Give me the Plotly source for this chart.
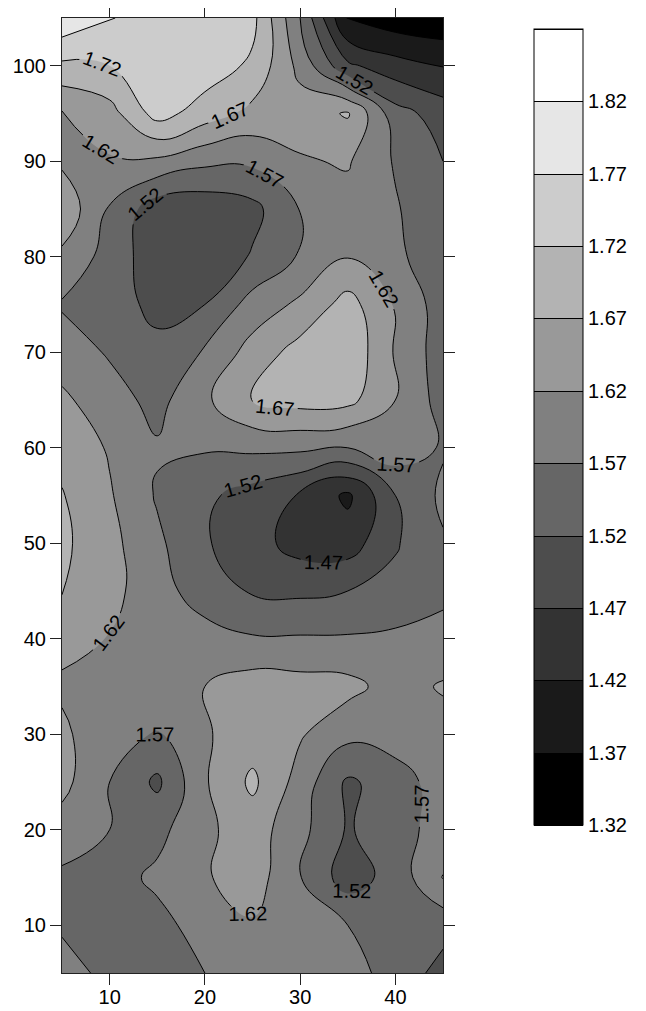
import plotly.graph_objects as go

# grid coordinates (sample nodes every 5 units)
x_vals = [5, 10, 15, 20, 25, 30, 35, 40, 45]
y_vals = [5, 10, 15, 20, 25, 30, 35, 40, 45, 50, 55, 60, 65, 70, 75, 80, 85, 90, 95, 100, 105]

# values, one row per y (from y=5 upward)
z_y5   = [1.585, 1.560, 1.550, 1.570, 1.595, 1.595, 1.585, 1.555, 1.500]
z_y10  = [1.565, 1.550, 1.555, 1.590, 1.615, 1.590, 1.570, 1.545, 1.540]
z_y15  = [1.560, 1.550, 1.580, 1.615, 1.645, 1.572, 1.495, 1.540, 1.622]
z_y20  = [1.600, 1.570, 1.555, 1.610, 1.645, 1.585, 1.515, 1.550, 1.590]
z_y25  = [1.635, 1.570, 1.510, 1.615, 1.680, 1.600, 1.510, 1.550, 1.590]
z_y30  = [1.630, 1.585, 1.567, 1.615, 1.645, 1.625, 1.585, 1.590, 1.600]
z_y35  = [1.612, 1.595, 1.590, 1.620, 1.645, 1.640, 1.635, 1.600, 1.625]
z_y40  = [1.635, 1.618, 1.595, 1.590, 1.575, 1.575, 1.575, 1.580, 1.585]
z_y45  = [1.673, 1.635, 1.590, 1.545, 1.515, 1.510, 1.520, 1.535, 1.560]
z_y50  = [1.680, 1.635, 1.580, 1.525, 1.490, 1.450, 1.445, 1.515, 1.565]
z_y55  = [1.673, 1.625, 1.565, 1.530, 1.500, 1.465, 1.410, 1.520, 1.580]
z_y60  = [1.655, 1.615, 1.575, 1.575, 1.580, 1.580, 1.570, 1.600, 1.565]
z_y65  = [1.630, 1.590, 1.555, 1.610, 1.675, 1.690, 1.685, 1.620, 1.550]
z_y70  = [1.595, 1.565, 1.535, 1.575, 1.640, 1.690, 1.710, 1.615, 1.545]
z_y75  = [1.565, 1.545, 1.505, 1.520, 1.590, 1.630, 1.690, 1.615, 1.545]
z_y80  = [1.610, 1.550, 1.490, 1.480, 1.525, 1.575, 1.618, 1.580, 1.540]
z_y85  = [1.655, 1.565, 1.490, 1.485, 1.505, 1.572, 1.600, 1.575, 1.530]
z_y90  = [1.612, 1.615, 1.610, 1.582, 1.580, 1.615, 1.625, 1.565, 1.520]
z_y95  = [1.615, 1.650, 1.740, 1.695, 1.655, 1.645, 1.675, 1.540, 1.497]
z_y100 = [1.710, 1.720, 1.740, 1.750, 1.710, 1.605, 1.480, 1.440, 1.418]
z_y105 = [1.810, 1.772, 1.755, 1.750, 1.735, 1.570, 1.365, 1.340, 1.330]

z_rows = [z_y5, z_y10, z_y15, z_y20, z_y25, z_y30, z_y35, z_y40, z_y45, z_y50,
          z_y55, z_y60, z_y65, z_y70, z_y75, z_y80, z_y85, z_y90, z_y95, z_y100, z_y105]

# contour levels and legend
level_start = 1.32
level_end = 1.87
level_step = 0.05
legend_ticks = [1.32, 1.37, 1.42, 1.47, 1.52, 1.57, 1.62, 1.67, 1.72, 1.77, 1.82]
legend_text = ["1.32", "1.37", "1.42", "1.47", "1.52", "1.57", "1.62", "1.67", "1.72", "1.77", "1.82"]

# grey for each band, lowest to highest (1.32-1.37 ... 1.82-1.87)
band_greys = ["#000000", "#1a1a1a", "#333333", "#4d4d4d", "#666666", "#808080",
              "#999999", "#b3b3b3", "#cccccc", "#e6e6e6", "#ffffff"]

n_bands = len(band_greys)
colorscale = [[0.0, band_greys[0]]]
for k, c in enumerate(band_greys):
    colorscale.append([(k + 0.5) / n_bands, c])
colorscale.append([1.0, band_greys[-1]])

font_family = "Liberation Sans, Arial, sans-serif"

fig = go.Figure(go.Contour(
    x=x_vals, y=y_vals, z=z_rows,
    autocontour=False,
    zmin=level_start, zmax=level_end,
    contours=dict(start=level_start, end=level_end, size=level_step,
                  coloring="fill", showlines=True, showlabels=True,
                  labelfont=dict(family=font_family, size=20, color="black"),
                  labelformat=".2f"),
    line=dict(color="black", width=1, smoothing=1.3),
    colorscale=colorscale,
    colorbar=dict(
        thickness=49, thicknessmode="pixels",
        len=796, lenmode="pixels",
        x=1.239, xanchor="left", y=0.9885, yanchor="top",
        xpad=0, ypad=0,
        outlinecolor="black", outlinewidth=1,
        tickmode="array", tickvals=legend_ticks, ticktext=legend_text,
        ticks="", tickfont=dict(family=font_family, size=20, color="black"),
    ),
    hoverinfo="skip",
))

axis_common = dict(showgrid=False, zeroline=False, showline=True, linecolor="#222222",
                   linewidth=1, mirror="ticks", ticks="outside", ticklen=11,
                   tickcolor="#222222", tickwidth=1, automargin=False,
                   tickfont=dict(family=font_family, size=20, color="black"))

fig.update_xaxes(range=[5, 45], tickvals=[10, 20, 30, 40], ticklabelstandoff=-5, **axis_common)
fig.update_yaxes(range=[5, 105], tickvals=[10, 20, 30, 40, 50, 60, 70, 80, 90, 100], **axis_common)

# page body has an 8px margin, so the figure is sized to fit inside the window
fig.update_layout(
    width=638, height=1003,
    margin=dict(l=54, r=203, t=10, b=38, autoexpand=False),
    paper_bgcolor="white", plot_bgcolor="white",
    font=dict(family=font_family, size=20, color="black"),
    showlegend=False,
)

fig.write_html("out.html")
